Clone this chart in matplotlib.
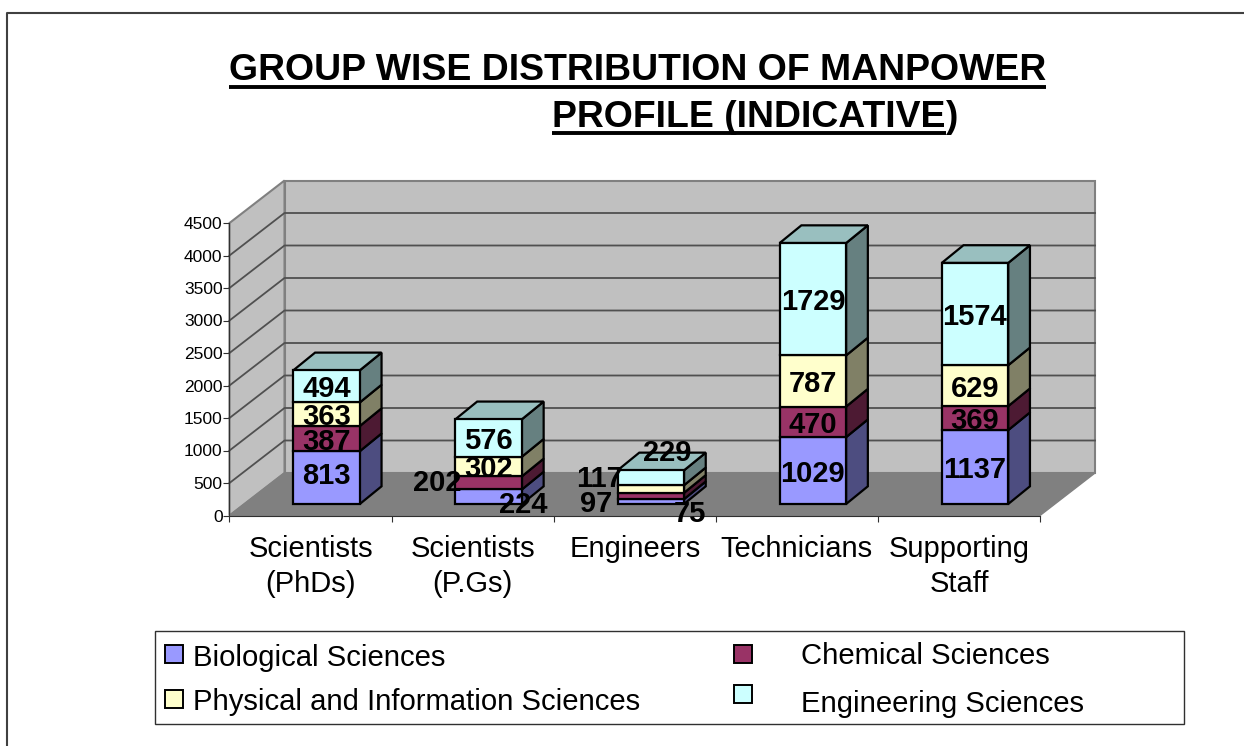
import matplotlib
matplotlib.use("Agg")
import matplotlib.pyplot as plt
from matplotlib.patches import Polygon, Rectangle

plt.rcParams['font.family'] = ['Liberation Sans', 'DejaVu Sans']

categories = ['Scientists\n(PhDs)', 'Scientists\n(P.Gs)', 'Engineers', 'Technicians', 'Supporting\nStaff']
biological = [813, 224, 75, 1029, 1137]
chemical = [387, 202, 97, 470, 369]
physical = [363, 302, 117, 787, 629]
engineering = [494, 576, 229, 1729, 1574]
series = [biological, chemical, physical, engineering]
series_names = ['Biological Sciences', 'Chemical Sciences',
                'Physical and Information Sciences', 'Engineering Sciences']
y_ticks = [0, 500, 1000, 1500, 2000, 2500, 3000, 3500, 4000, 4500]

front = ['#9999ff', '#993366', '#ffffcc', '#ccffff']
side = ['#4d4d80', '#4d1a33', '#808066', '#668080']
top_col = '#99bfbf'

# label shifts in pixels (series, category): (right, down)
nudge = {(0, 0): (0, -5), (1, 1): (-51, -3), (0, 1): (35, 5),
         (1, 2): (-55, 5), (0, 2): (39, 9), (2, 2): (-51, -13), (3, 2): (16, -28)}

W, H = 1244, 746
fig = plt.figure(figsize=(W / 100, H / 100), dpi=100)

# front plane of the fake 3d box
left, right, y0, y1 = 229.5, 1040, 515.5, 223
ax = fig.add_axes([left / W, 1 - y0 / H, (right - left) / W, (y0 - y1) / H])
ax.set_xlim(0, 5)
ax.set_ylim(0, 4500)
ax.patch.set_visible(False)

dx = 55 / 162.1
dy = 42.5 / 0.065
bar_w = 0.41
bar_dx = 0.134
bar_dy = 272
shift_x = 0.099
shift_y = 177

ymax = y_ticks[-1]
ax.add_patch(Rectangle((dx, dy), 5, ymax, fc='#c0c0c0', ec='#808080', lw=1.5, clip_on=False, zorder=1))
ax.add_patch(Polygon([(0, 0), (dx, dy), (dx, ymax + dy), (0, ymax)], fc='#c0c0c0', ec='#808080', lw=1.5, clip_on=False, zorder=1))
ax.add_patch(Polygon([(0, 0), (5, 0), (5 + dx, dy), (dx, dy)], fc='#808080', ec='#808080', lw=1, clip_on=False, zorder=1))
for t in y_ticks[1:-1]:
    ax.plot([0, dx, 5 + dx], [t, t + dy, t + dy], color='#505050', lw=1.3, clip_on=False, zorder=2)

for c in range(len(categories)):
    x = c + 0.5 + shift_x - bar_w / 2
    base = shift_y
    for s, vals in enumerate(series):
        v = vals[c]
        ax.add_patch(Polygon([(x + bar_w, base), (x + bar_w + bar_dx, base + bar_dy),
                              (x + bar_w + bar_dx, base + v + bar_dy), (x + bar_w, base + v)],
                             fc=side[s], ec='black', lw=1.6, clip_on=False, zorder=3))
        ax.add_patch(Rectangle((x, base), bar_w, v, fc=front[s], ec='black', lw=1.6, clip_on=False, zorder=4))
        sx, sy = nudge.get((s, c), (0, 0))
        ax.annotate(str(v), (x + bar_w / 2, base + v / 2), xytext=(sx, -sy), textcoords='offset pixels',
                    ha='center', va='center_baseline', fontsize=21, fontweight='bold', color='black', zorder=10,
                    annotation_clip=False)
        base += v
    ax.add_patch(Polygon([(x, base), (x + bar_dx, base + bar_dy), (x + bar_w + bar_dx, base + bar_dy), (x + bar_w, base)],
                         fc=top_col, ec='black', lw=1.6, clip_on=False, zorder=3))

for name in ['top', 'right']:
    ax.spines[name].set_visible(False)
for name in ['left', 'bottom']:
    ax.spines[name].set_color('#303030')
    ax.spines[name].set_zorder(5)
ax.set_yticks(y_ticks)
ax.tick_params(axis='y', labelsize=12.5, length=4, pad=1, color='#303030')
ax.set_xticks(range(6))
ax.set_xticklabels([])
ax.tick_params(axis='x', which='major', length=4.5, color='#303030')
ax.set_xticks([i + 0.5 for i in range(5)], minor=True)
ax.set_xticklabels(categories, minor=True, fontsize=21, linespacing=1.3)
ax.tick_params(axis='x', which='minor', length=0, pad=14)

# overlay in pixel coordinates for title, frame and legend
ov = fig.add_axes([0, 0, 1, 1], zorder=20)
ov.set_xlim(0, W)
ov.set_ylim(H, 0)
ov.axis('off')

ov.plot([6.5, 6.5, W], [H, 12.5, 12.5], color='#404040', lw=1.5)

renderer = fig.canvas.get_renderer()
t1 = ov.text(229, 80.5, 'GROUP WISE DISTRIBUTION OF MANPOWER', fontsize=26.9, fontweight='bold', va='baseline')
t2 = ov.text(552, 127, 'PROFILE (INDICATIVE', fontsize=26.9, fontweight='bold', va='baseline')
e1 = t1.get_window_extent(renderer)
e2 = t2.get_window_extent(renderer)
ov.text(e2.x1, 127, ')', fontsize=26.9, fontweight='bold', va='baseline')
ov.plot([e1.x0, e1.x1], [87, 87], color='black', lw=2.8, solid_capstyle='butt')
ov.plot([e2.x0, e2.x1], [133, 133], color='black', lw=2.8, solid_capstyle='butt')

ov.add_patch(Rectangle((155, 630.5), 1029, 93, fc='white', ec='#303030', lw=1))
swatches = [(164.5, 645), (734, 645), (164.5, 690), (734, 684.5)]
text_pos = [(193, 654.5), (801, 653.5), (193, 699.5), (801, 701.5)]
for i in range(4):
    ov.add_patch(Rectangle(swatches[i], 18, 18, fc=front[i], ec='black', lw=1.4))
    ov.text(text_pos[i][0], text_pos[i][1], series_names[i], fontsize=21.1, va='center_baseline')

fig.savefig('out.png', dpi=100)
